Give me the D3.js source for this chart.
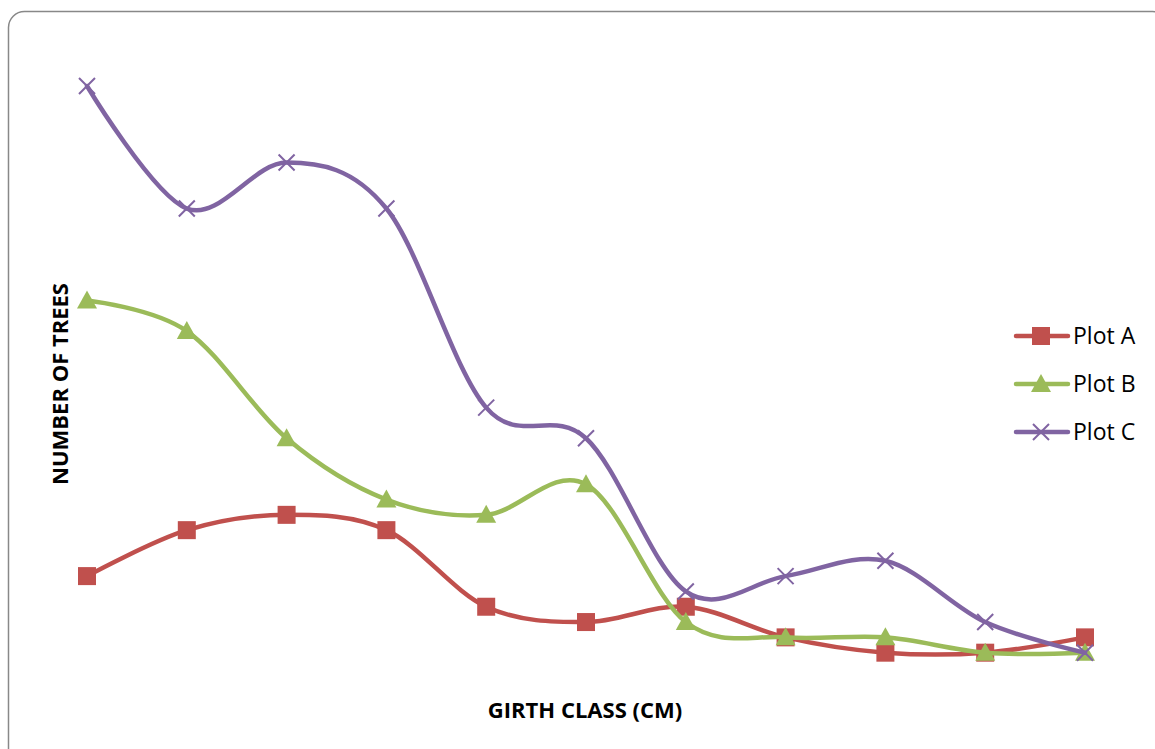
<!DOCTYPE html>
<html>
<head>
<meta charset="utf-8">
<script src="https://cdn.jsdelivr.net/npm/d3@7"></script>
<style>
  body { margin: 0; background: #fff; }
  svg text { font-family: "Open Sans", Lato, sans-serif; }
</style>
</head>
<body>
<div id="vis"></div>
<script>

var width = 1155;
var height = 749;

// girth classes (not labelled in the picture)
var girthClasses = ['1', '2', '3', '4', '5', '6', '7', '8', '9', '10', '11'];

var plotA = [6, 9, 10, 9, 4, 3, 4, 2, 1, 1, 2];
var plotB = [24, 22, 15, 11, 10, 12, 3, 2, 2, 1, 1];
var plotC = [38, 30, 33, 30, 17, 15, 5, 6, 7, 3, 1];

var seriesNames = ['Plot A', 'Plot B', 'Plot C'];
var seriesColors = ['#C0504D', '#9BBB59', '#8064A2'];
var seriesMarkers = ['square', 'triangle', 'cross'];

var series = [plotA, plotB, plotC].map(function (vals, i) {
    return { name: seriesNames[i], color: seriesColors[i], marker: seriesMarkers[i], values: vals };
});

var svg = d3.select('#vis')
    .append('svg')
    .attr('width', width)
    .attr('height', height);

// chart border with rounded corners
svg.append('rect')
    .attr('x', 8.5)
    .attr('y', 11.5)
    .attr('width', 1160)
    .attr('height', 760)
    .attr('rx', 16)
    .attr('fill', 'white')
    .attr('stroke', '#888')
    .attr('stroke-width', 1.5);

var x = d3.scalePoint()
    .domain(girthClasses)
    .range([87, 1085]);

var y = d3.scaleLinear()
    .domain([0, 38])
    .range([668, 86]);

var line = d3.line()
    .x(function (d, i) { return x(girthClasses[i]); })
    .y(function (d) { return y(d); })
    .curve(d3.curveCardinal.tension(0));

function drawMarker(g, type, color, cx, cy) {
    if (type === 'square') {
        g.append('rect')
            .attr('x', cx - 9).attr('y', cy - 9)
            .attr('width', 18).attr('height', 18)
            .attr('fill', color);
    } else if (type === 'triangle') {
        g.append('path')
            .attr('d', 'M' + cx + ',' + (cy - 10) + 'L' + (cx + 10) + ',' + (cy + 8) + 'L' + (cx - 10) + ',' + (cy + 8) + 'Z')
            .attr('fill', color);
    } else {
        g.append('path')
            .attr('d', 'M' + (cx - 8) + ',' + (cy - 8) + 'L' + (cx + 8) + ',' + (cy + 8) +
                       'M' + (cx - 8) + ',' + (cy + 8) + 'L' + (cx + 8) + ',' + (cy - 8))
            .attr('stroke', color)
            .attr('stroke-width', 2)
            .attr('fill', 'none');
    }
}

series.forEach(function (s) {
    svg.append('path')
        .datum(s.values)
        .attr('d', line)
        .attr('fill', 'none')
        .attr('stroke', s.color)
        .attr('stroke-width', 4.5)
        .attr('stroke-linecap', 'round');

    var mg = svg.append('g');
    s.values.forEach(function (v, i) {
        drawMarker(mg, s.marker, s.color, x(girthClasses[i]), y(v));
    });
});

// legend
var legend = svg.append('g');
series.forEach(function (s, i) {
    var ly = 336 + i * 48;
    legend.append('line')
        .attr('x1', 1016).attr('x2', 1068)
        .attr('y1', ly).attr('y2', ly)
        .attr('stroke', s.color)
        .attr('stroke-width', 4.5)
        .attr('stroke-linecap', 'round');
    drawMarker(legend, s.marker, s.color, 1041, ly);
    legend.append('text')
        .attr('x', 1073)
        .attr('y', ly)
        .attr('dy', '0.35em')
        .attr('font-size', 23)
        .attr('fill', '#000')
        .text(s.name);
});

// axis titles
svg.append('text')
    .attr('x', 585)
    .attr('y', 710)
    .attr('dy', '0.35em')
    .attr('text-anchor', 'middle')
    .attr('font-size', 22)
    .attr('font-weight', 'bold')
    .text('GIRTH CLASS (CM)');

svg.append('text')
    .attr('transform', 'translate(60,384) rotate(-90)')
    .attr('dy', '0.35em')
    .attr('text-anchor', 'middle')
    .attr('font-size', 22)
    .attr('font-weight', 'bold')
    .text('NUMBER OF TREES');

</script>
</body>
</html>
